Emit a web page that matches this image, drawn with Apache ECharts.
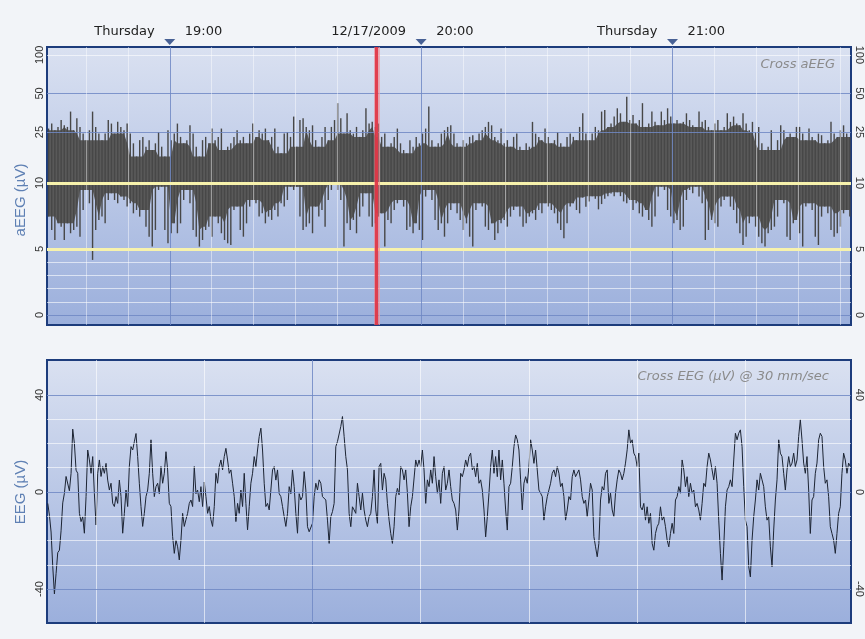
<!DOCTYPE html>
<html>
<head>
<meta charset="utf-8">
<script src="https://cdn.jsdelivr.net/npm/echarts@6/dist/echarts.min.js"></script>
<style>
  html, body { margin: 0; padding: 0; background: #f2f4f8; }
  #chart { width: 865px; height: 639px; }
</style>
</head>
<body>
<div id="chart"></div>
<script>
// ---------------- Cross aEEG : 45-second epochs, min/max amplitude (µV) ----------------
const aeegStartMin = 30.7;   // minutes after 18:00 at the left edge of the page
const aeegEpochMin = 0.75;
const aeegEndMin = 222.6;

const aeegMax = [
  26.6, 29.1, 25.8, 27.4, 31.0, 28.2, 27.4, 36.1, 25.8, 32.0,
  27.4, 24.3, 21.6, 25.8, 36.1, 27.4, 24.3, 21.6, 24.3, 31.0,
  29.1, 24.3, 30.0, 27.4, 25.8, 29.1, 24.3, 20.4, 16.1, 21.6,
  22.9, 19.2, 21.6, 18.1, 20.4, 25.0, 19.2, 16.1, 25.8, 21.6,
  24.3, 29.1, 22.9, 20.4, 21.6, 28.2, 24.3, 19.2, 16.1, 21.6,
  22.9, 20.4, 26.6, 21.6, 22.9, 26.6, 18.1, 19.2, 20.4, 22.9,
  25.8, 21.6, 22.9, 20.4, 24.3, 29.1, 22.9, 25.8, 24.3, 26.6,
  21.6, 22.9, 26.6, 19.2, 17.1, 24.3, 25.0, 22.9, 33.0, 19.2,
  31.0, 32.0, 27.4, 25.8, 28.2,
  21.6, 19.2, 22.9, 27.4, 21.6, 27.4, 31.0, 42.0, 32.0, 24.3,
  35.0, 25.8, 24.3, 27.4, 22.9, 25.8, 38.3, 29.1, 30.0, 27.4,
  29.1, 22.9, 24.3, 19.2, 20.4, 22.9, 26.6, 20.4, 18.1, 17.1,
  21.6, 19.2, 22.9, 20.4, 24.3, 26.6, 39.5, 21.6, 19.2, 20.4,
  24.3, 25.8, 27.4, 28.2, 24.3, 20.4, 19.2, 21.6, 20.4, 22.9,
  23.6, 21.6, 24.3, 25.8, 27.4, 30.0, 28.2, 22.9, 21.6, 26.6,
  20.4, 21.6, 19.2, 22.9, 24.3, 19.2, 18.1, 20.4, 19.2, 30.0,
  24.3, 22.9, 21.6, 26.6, 22.9, 20.4, 21.6, 25.0, 20.4, 19.2,
  22.9, 24.3, 22.9, 21.6, 27.4,
  35.0, 24.3, 21.6, 24.3, 27.4, 25.8, 36.1, 37.2, 27.4, 29.1,
  33.0, 38.3, 35.0, 30.0, 47.2, 31.0, 34.0, 29.1, 31.0, 42.0,
  27.4, 29.1, 36.1, 30.0, 28.2, 36.1, 31.0, 38.3, 33.0, 29.1,
  31.0, 29.1, 30.0, 35.0, 31.0, 28.2, 27.4, 36.1, 30.0, 31.0,
  27.4, 25.8, 29.1, 31.0, 25.8, 27.4, 35.0, 30.0, 33.0, 29.1,
  28.2, 35.0, 29.1, 25.8, 30.0, 25.0, 27.4, 20.4, 18.1, 19.2,
  25.8, 18.1, 21.6, 28.2, 25.8, 22.9, 24.3, 22.9, 27.4, 27.4,
  24.3, 21.6, 26.6, 22.9, 21.6, 24.3, 23.6, 20.4, 21.6, 30.0,
  24.3, 22.9, 25.8, 28.2, 24.3, 22.9
];

const aeegMin = [
  7.45, 6.44, 5.68, 6.94, 6.69, 5.68, 6.94, 6.19, 6.44, 6.69,
  5.93, 7.95, 9.47, 8.46, 4.17, 6.44, 7.20, 7.45, 6.94, 8.71,
  9.22, 8.71, 8.46, 8.97, 8.71, 8.21, 8.46, 7.70, 7.95, 7.45,
  7.95, 6.69, 5.93, 5.18, 6.44, 9.47, 9.72, 6.44, 5.43, 6.19,
  6.94, 6.19, 6.94, 8.71, 9.47, 8.46, 6.44, 5.93, 5.18, 5.68,
  6.44, 6.69, 5.93, 7.45, 6.94, 6.19, 5.68, 5.43, 5.30, 7.95,
  8.21, 6.44, 5.93, 6.94, 8.21, 8.71, 8.46, 7.45, 7.70, 6.94,
  7.45, 7.20, 7.95, 7.45, 8.46, 8.21, 8.71, 9.72, 9.47, 9.70,
  7.45, 6.44, 6.69, 6.94, 6.19,
  8.21, 7.45, 7.95, 6.69, 8.71, 9.47, 9.90, 9.47, 8.71, 5.18,
  6.94, 6.44, 7.20, 6.19, 7.45, 8.21, 9.22, 7.45, 6.69, 6.94,
  7.45, 7.70, 5.18, 7.20, 6.94, 7.95, 8.46, 8.71, 8.21, 6.44,
  6.69, 6.19, 6.94, 6.44, 5.68, 8.97, 9.47, 8.71, 7.20, 6.44,
  6.94, 5.93, 6.94, 7.95, 8.46, 7.70, 7.20, 6.44, 6.94, 5.93,
  5.18, 7.95, 8.46, 8.21, 6.69, 6.44, 6.94, 5.68, 6.19, 6.94,
  7.20, 6.69, 7.45, 7.95, 8.21, 7.45, 6.69, 6.94, 7.45, 7.70,
  7.20, 7.95, 7.70, 8.46, 8.21, 7.95, 7.70, 6.94, 6.44, 5.81,
  6.94, 8.21, 8.46, 7.95, 7.70,
  8.90, 8.20, 8.60, 9.00, 8.80, 8.00, 8.40, 8.80, 9.00, 9.20,
  9.00, 9.30, 9.00, 8.60, 8.46, 8.71, 7.95, 8.46, 7.70, 7.45,
  7.95, 7.20, 6.69, 7.45, 8.97, 9.72, 9.47, 7.95, 7.45, 6.94,
  7.20, 6.44, 6.69, 8.71, 9.47, 9.22, 9.72, 8.97, 8.46, 5.68,
  6.44, 7.20, 6.94, 6.69, 8.21, 8.71, 8.97, 8.21, 7.95, 6.94,
  6.19, 5.30, 5.93, 6.94, 7.45, 6.69, 5.93, 5.43, 5.18, 6.19,
  6.44, 6.69, 7.45, 8.71, 8.46, 5.93, 5.68, 6.94, 7.20, 6.19,
  5.18, 8.21, 8.46, 7.95, 5.93, 5.30, 7.45, 8.21, 7.70, 6.44,
  5.93, 6.19, 6.69, 7.70, 7.95, 7.45
];

// Hour ticks on the time axis (minutes after 18:00)
const hourTicks = [60, 120, 180];
const hourDayLabels = ['Thursday', '12/17/2009', 'Thursday'];
const hourTimeLabels = ['19:00', '20:00', '21:00'];

// aEEG amplitude ticks (semi-logarithmic: linear 0-10, log 10-100)
const aeegTicks = [0, 5, 10, 25, 50, 100];
const aeegMarginLines = [5, 10];
const cursorMin = 109.4;   // 19:49:24

// ---------------- Cross EEG : 30 mm/sec page ----------------
const eegPageStartSec = 0.548;
const eegPageEndSec = 7.977;
const eegFirstSampleSec = 0.555;
const eegRateHz = 65;
const eegValues = [
  -4.7, -9.6, -16.5, -30.8, -42.0, -33.6, -25.0, -24.0, -16.0, -4.5,
  -0.5, 6.4, 6.0, 0.5, 7.7, 25.9, 20.0, 9.0,
  7.7, -8.8, -12.2, -10.2, -17.0, -1.9, 17.3, 13.2, 7.7, 14.6,
  -0.7, -13.6, 7.7, 13.2, 6.4, 10.5, 7.7, 11.8, 4.9, 0.8,
  3.6, -4.7, -6.0, -1.9, -4.7, 4.9, -1.9, -17.0, -8.8, 0.8,
  -6.0, 10.5, 18.7, 17.3, 20.7, 24.1, 14.6, 3.6, -6.0, -14.2,
  -8.8, -1.9, 0.8, 7.7, 21.5, 7.7, -1.9, 2.2, 3.6, -0.7,
  10.5, 3.6, 7.7, 16.6, 9.1, -4.7, -6.0, -18.4, -25.3, -19.8,
  -22.6, -28.0, -19.8, -8.8, -14.2, -11.4, -8.8, -4.7, -3.3, -6.0,
  10.5, -0.7, 0.8, -4.0, 2.2, -6.0, 4.1, -1.9, -8.8, -6.0,
  -11.4, -14.2, -6.0, 7.7, 3.6, 10.5, 13.2, 9.1, 14.6, 18.0,
  13.2, 7.7, 9.1, 3.6, -1.9, -12.2, -4.7, -8.8, 0.8, -6.0,
  7.7, -4.7, -15.6, -6.0, 3.6, 7.7, 14.6, 10.5, 17.3, 22.9,
  26.3, 17.3, 3.6, -6.0, -4.7, -7.4, 0.8, 9.1, 10.5, 4.9,
  9.1, -0.7, -1.9, -6.0, -10.2, -14.2, -8.8, 2.2, -0.7, 9.1,
  2.2, -8.8, -17.0, -0.7,
  -3.3, -1.9, 8.4, 0.8, -14.3, -16.4, -16.8, -12.9, -1.9, 3.6,
  0.8, 5.0, 3.6, -1.9, -1.2, -3.3, -11.6, -21.2, -10.2, -8.1,
  -4.7, 18.7, 20.8, 21.5, 27.0, 31.1, 22.9, 14.6, 9.1, -8.8,
  -14.3, -6.1, -7.4, -8.8, 3.6, -1.9, -7.4, -0.5, -7.4, -11.6,
  -14.3, -10.2, -8.8, -1.9, 9.1, -7.4, -12.9, 10.5, 11.8, 0.8,
  7.7, 5.0, -4.7, -11.6, -17.1, -21.2, -14.3, -1.9, 1.5, -1.2,
  10.5, 9.1, 5.0, 9.1, -0.5, -14.3, -6.1, -1.9, -1.2, 13.2,
  10.5, 13.2, 10.5, 17.3, 9.1, -4.7, 5.0, 2.2, 9.1, 3.6,
  14.6, 6.3, -0.5, 5.0, -4.7, 7.7, 10.5, 0.8, 3.6, 9.1,
  2.2, -3.3, -4.7, -7.4, -15.7, -7.4, 7.7, 6.3, 9.1, 13.2,
  10.5, 14.6, 16.0, 9.1, 10.5, 6.3, 11.8, 3.6, 5.0, 0.8,
  -7.4, -18.5, -10.2, -0.5, 10.5, 17.3, 7.7, 14.6, 6.3, 17.3,
  5.0, 13.2, 3.6, -7.4, -15.7, 2.2, 3.6, 10.5, 18.7, 23.5,
  21.5, 17.3, 5.0, -7.4, 3.6, 6.3, 3.6, 10.5, 21.5, 17.3,
  11.8, 17.3, 9.1, 0.8, -0.5, -1.9, -11.6, -6.1, -1.9, -1.2,
  3.6, 7.7, 9.1, 6.3, 10.5, 7.7, 2.2, 3.6, -1.9, -11.6,
  -7.4, -1.9, -3.3, 6.3, 9.1, 6.3, 7.7,
  9.1, 5.0, -1.9, -4.7, -3.3, -10.2, -3.3, 3.6, 0.8, -18.4,
  -22.6, -26.7, -21.2, -3.3, 2.2, 0.8, 7.7, 9.1, -4.7, -0.5,
  -7.4, -10.2, -0.5, 5.0, 9.1, 7.7, 5.0, 7.7, 11.9, 17.4,
  25.6, 20.1, 21.5, 16.0, 14.6, 10.5, 16.0, -6.1, -7.4, -4.7,
  -11.6, -6.1, -12.9, -8.8, -21.2, -24.0, -17.1, -14.3, -12.9, -6.1,
  -11.6, -10.2, -14.3, -19.8, -22.6, -17.1, -12.9, -17.1, -3.3, -1.9,
  2.2, -0.5, 13.2, 9.1, 2.2, 6.3, -1.9, 3.6, -0.5, 0.8,
  -6.1, -4.7, -7.4, -11.6, -4.7, 3.6, 2.2, 10.5, 16.0, 13.2,
  9.1, 5.0, 10.5, 3.6, -11.6, -25.3, -36.3, -22.6, -6.1, 0.8,
  2.2, 5.0, 2.2, 13.2, 24.2, 21.5, 24.2, 25.6, 18.7, 2.2,
  -11.6, -14.3, -30.8, -35.0, -19.8, -10.2, -3.3, 5.0, 0.8, 7.7,
  5.0, 2.2, -6.1, -11.6, -10.2, -22.6, -30.8, -15.7, -3.3, 5.0,
  21.5, 16.0, 14.6, 7.7, 0.8, 9.1, 14.6, 10.5, 11.9, 16.0,
  10.5, 13.2, 22.9, 29.8, 21.5, 11.9, 7.7, 14.6, 0.8, -17.1,
  -3.3, -1.9, 7.7, 11.9, 21.5, 24.2, 22.9, 10.5, 3.6, 5.0,
  -1.9, -14.3, -17.1, -19.8, -25.3, -17.1, -8.8, -6.1, 7.7, 16.0,
  13.2, 7.7, 11.9, 10.5
];
const eegTicks = [-40, 0, 40];
const eegMajorSecond = 3;

// ---------------- scales ----------------
// aEEG display: linear below 10 µV, logarithmic from 10 to 100 µV
const LOG_DECADE_UNITS = 9.7;
function semiLog(v) { return v <= 10 ? v : 10 + LOG_DECADE_UNITS * Math.log10(v / 10); }
const aeegAxisMin = -0.76;
const aeegAxisMax = 20.3;
const eegAxisMin = -54.0;
const eegAxisMax = 54.4;

function nearestLabel(v, ticks, mapped) {
  let best = 0;
  for (let i = 1; i < mapped.length; i++) {
    if (Math.abs(mapped[i] - v) < Math.abs(mapped[best] - v)) best = i;
  }
  return String(ticks[best]);
}

const aeegTickPos = aeegTicks.map(semiLog);

// epoch entries: [centre time, low, high] in display units
const aeegData = aeegMax.map((hi, i) => [
  aeegStartMin + (i + 0.5) * aeegEpochMin,
  semiLog(aeegMin[i]),
  semiLog(hi)
]);

const eegData = eegValues.map((v, i) => [eegFirstSampleSec + i / eegRateHz, v]);

// ---------------- grid line definitions ----------------
const WHITE = 'rgba(255,255,255,0.6)';
const WHITE_OVER = 'rgba(255,255,255,0.45)';
const BLUE = 'rgba(112,136,196,0.85)';

function gl(key, value, color, width) {
  const item = { lineStyle: { color: color, width: width || 1, type: 'solid' } };
  item[key] = value;
  return item;
}

// vertical time lines of the aEEG panel run over the trace
const topTimeLines = [];
for (let m = 40; m <= 220; m += 10) {
  topTimeLines.push(gl('xAxis', m, hourTicks.includes(m) ? BLUE : WHITE_OVER));
}
const topLevelLines = [];
[1, 2, 3, 4, 100].forEach(v => topLevelLines.push(gl('yAxis', semiLog(v), WHITE)));
[0, 25, 50].forEach(v => topLevelLines.push(gl('yAxis', semiLog(v), BLUE)));

const bottomGridLines = [];
for (let s = 1; s <= 7; s++) {
  bottomGridLines.push(gl('xAxis', s, s === eegMajorSecond ? BLUE : WHITE));
}
[-30, -20, -10, 10, 20, 30].forEach(v => bottomGridLines.push(gl('yAxis', v, WHITE)));
[-40, 0, 40].forEach(v => bottomGridLines.push(gl('yAxis', v, BLUE)));

function lineSet(items) {
  return {
    silent: true, animation: false, symbol: ['none', 'none'],
    label: { show: false }, emphasis: { disabled: true },
    lineStyle: { type: 'solid' }, data: items
  };
}

const panelFill = {
  type: 'linear', x: 0, y: 0, x2: 0, y2: 1,
  colorStops: [{ offset: 0, color: '#dae1f1' }, { offset: 1, color: '#9bafdc' }]
};

const tickFont = { fontFamily: 'Liberation Sans', fontSize: 11, color: '#333333' };
const headFont = { fontFamily: 'DejaVu Sans', fontSize: 13, color: '#222222' };

// aEEG trace: dense core (range shared by the surrounding epochs) plus one
// stroke per epoch reaching that epoch's own min and max
const CORE_HALF_WINDOW = 2;
function renderAeeg(params, api) {
  const i = params.dataIndex;
  const t = api.value(0);
  const top = api.coord([t, api.value(2)]);
  const bot = api.coord([t, api.value(1)]);
  const children = [];
  if (i === 0) {
    const n = aeegData.length;
    const upper = [], lower = [];
    for (let k = 0; k < n; k++) {
      const a = Math.max(0, k - CORE_HALF_WINDOW), b = Math.min(n - 1, k + CORE_HALF_WINDOW);
      let hi = Infinity, lo = -Infinity;
      for (let j = a; j <= b; j++) { hi = Math.min(hi, aeegData[j][2]); lo = Math.max(lo, aeegData[j][1]); }
      upper.push(api.coord([aeegData[k][0], hi]));
      lower.push(api.coord([aeegData[k][0], lo]));
    }
    children.push({
      type: 'polygon',
      shape: { points: upper.concat(lower.reverse()) },
      style: { fill: '#595959' }
    });
  }
  children.push({
    type: 'line',
    shape: { x1: top[0], y1: top[1], x2: bot[0], y2: bot[1] },
    style: { stroke: '#474747', lineWidth: 1.4 }
  });
  return { type: 'group', children: children };
}

const option = {
  animation: false,
  backgroundColor: '#f2f4f8',
  title: [
    { text: 'Cross aEEG', right: 25, top: 53,
      textStyle: { fontFamily: 'DejaVu Sans', fontStyle: 'italic', fontWeight: 'normal', fontSize: 13, color: '#8b8b8b' } },
    { text: 'Cross EEG (µV) @ 30 mm/sec', right: 31, top: 365,
      textStyle: { fontFamily: 'DejaVu Sans', fontStyle: 'italic', fontWeight: 'normal', fontSize: 13, color: '#8b8b8b' } }
  ],
  graphic: [
    { type: 'text', x: 21, y: 200, rotation: Math.PI / 2,
      style: { text: 'aEEG (µV)', align: 'center', verticalAlign: 'middle',
               font: '15px "Liberation Sans"', fill: '#5f80b4' } },
    { type: 'text', x: 21, y: 492, rotation: Math.PI / 2,
      style: { text: 'EEG (µV)', align: 'center', verticalAlign: 'middle',
               font: '15px "Liberation Sans"', fill: '#5f80b4' } }
  ],
  grid: [
    { left: 47, top: 47, width: 806, height: 278, show: true,
      backgroundColor: panelFill, borderColor: '#1d3c7c', borderWidth: 2 },
    { left: 47, top: 360, width: 806, height: 263, show: true,
      backgroundColor: panelFill, borderColor: '#1d3c7c', borderWidth: 2 }
  ],
  xAxis: [
    // day / date part, left of each hour mark
    { gridIndex: 0, type: 'value', position: 'top', min: aeegStartMin, max: aeegEndMin,
      axisLine: { show: false }, axisTick: { show: false }, splitLine: { show: false },
      axisLabel: Object.assign({
        customValues: hourTicks, margin: 9, align: 'right', padding: [0, 15, 0, 0],
        formatter: v => hourDayLabels[hourTicks.indexOf(Math.round(v))]
      }, headFont) },
    { gridIndex: 1, type: 'value', min: eegPageStartSec, max: eegPageEndSec,
      axisLine: { show: false }, axisTick: { show: false }, splitLine: { show: false },
      axisLabel: { show: false } },
    // clock part, right of each hour mark
    { gridIndex: 0, type: 'value', position: 'top', min: aeegStartMin, max: aeegEndMin,
      axisLine: { show: false }, axisTick: { show: false }, splitLine: { show: false },
      axisLabel: Object.assign({
        customValues: hourTicks, margin: 9, align: 'left', padding: [0, 0, 0, 15],
        formatter: v => hourTimeLabels[hourTicks.indexOf(Math.round(v))]
      }, headFont) }
  ],
  yAxis: [
    { gridIndex: 0, type: 'value', min: aeegAxisMin, max: aeegAxisMax,
      axisLine: { show: false }, axisTick: { show: false }, splitLine: { show: false },
      axisLabel: Object.assign({ customValues: aeegTickPos, rotate: 90, margin: 2,
        formatter: v => nearestLabel(v, aeegTicks, aeegTickPos) }, tickFont) },
    { gridIndex: 0, type: 'value', position: 'right', min: aeegAxisMin, max: aeegAxisMax,
      axisLine: { show: false }, axisTick: { show: false }, splitLine: { show: false },
      axisLabel: Object.assign({ customValues: aeegTickPos, rotate: -90, margin: 3,
        formatter: v => nearestLabel(v, aeegTicks, aeegTickPos) }, tickFont) },
    { gridIndex: 1, type: 'value', min: eegAxisMin, max: eegAxisMax,
      axisLine: { show: false }, axisTick: { show: false }, splitLine: { show: false },
      axisLabel: Object.assign({ customValues: eegTicks, rotate: 90, margin: 2 }, tickFont) },
    { gridIndex: 1, type: 'value', position: 'right', min: eegAxisMin, max: eegAxisMax,
      axisLine: { show: false }, axisTick: { show: false }, splitLine: { show: false },
      axisLabel: Object.assign({ customValues: eegTicks, rotate: -90, margin: 3 }, tickFont) }
  ],
  series: [
    { name: 'aEEG levels', type: 'line', xAxisIndex: 0, yAxisIndex: 0, data: [], z: 1,
      markLine: lineSet(topLevelLines) },
    { name: 'Cross aEEG', type: 'custom', xAxisIndex: 0, yAxisIndex: 0, z: 2, clip: true,
      data: aeegData, encode: { x: 0, y: [1, 2] }, renderItem: renderAeeg },
    { name: 'aEEG time lines', type: 'line', xAxisIndex: 0, yAxisIndex: 0, data: [], z: 3,
      markLine: lineSet(topTimeLines) },
    { name: 'margins', type: 'line', xAxisIndex: 0, yAxisIndex: 0, data: [], z: 4,
      markLine: lineSet(aeegMarginLines.map(v => gl('yAxis', semiLog(v), '#f7f2ac', 3))) },
    { name: 'cursor', type: 'line', xAxisIndex: 0, yAxisIndex: 0, data: [], z: 5,
      markLine: lineSet([
        gl('xAxis', cursorMin, 'rgba(240,120,130,0.55)', 6),
        gl('xAxis', cursorMin, 'rgba(224,52,68,0.9)', 3)
      ]) },
    { name: 'hour marks', type: 'scatter', xAxisIndex: 0, yAxisIndex: 0, z: 6, clip: false, silent: true,
      data: hourTicks.map(h => [h, aeegAxisMax]),
      symbol: 'triangle', symbolRotate: 180, symbolSize: [11, 6], symbolOffset: [0, -5],
      itemStyle: { color: '#1d3c7c' } },
    { name: 'EEG grid', type: 'line', xAxisIndex: 1, yAxisIndex: 2, data: [], z: 1,
      markLine: lineSet(bottomGridLines) },
    { name: 'Cross EEG', type: 'line', xAxisIndex: 1, yAxisIndex: 2, z: 2, clip: true,
      data: eegData, showSymbol: false, symbol: 'none',
      lineStyle: { color: '#1c2433', width: 1 } }
  ]
};

const chart = echarts.init(document.getElementById('chart'));
chart.setOption(option);
</script>
</body>
</html>
